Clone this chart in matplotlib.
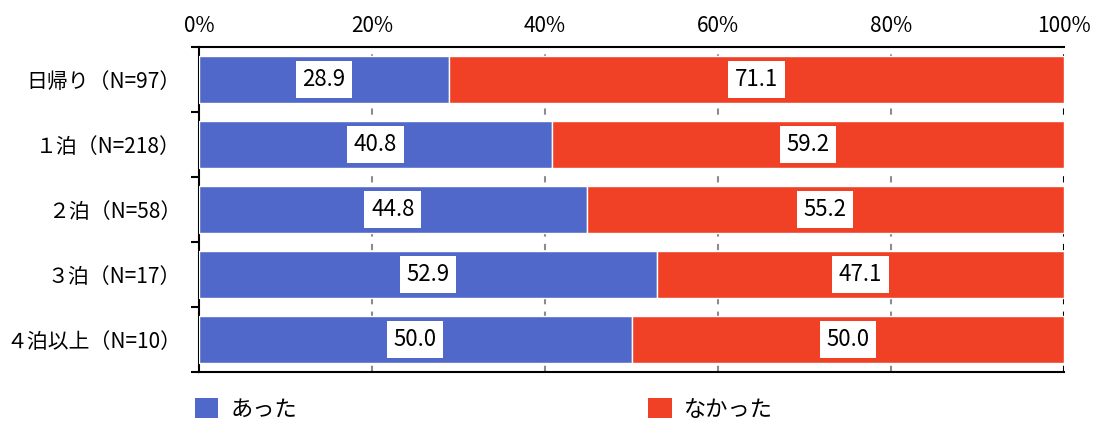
import matplotlib
matplotlib.use("Agg")
import matplotlib.pyplot as plt
import numpy as np
from matplotlib.patches import Patch

plt.rcParams['font.family'] = ['Noto Sans CJK JP', 'DejaVu Sans']

categories = ["日帰り（N=97）", "１泊（N=218）", "２泊（N=58）", "３泊（N=17）", "４泊以上（N=10）"]
atta = [28.9, 40.8, 44.8, 52.9, 50.0]
nakatta = [71.1, 59.2, 55.2, 47.1, 50.0]
series_names = ["あった", "なかった"]
xticks = [0, 20, 40, 60, 80, 100]
xtick_labels = ["0%", "20%", "40%", "60%", "80%", "100%"]

c_blue = "#4F68C9"
c_red = "#F04126"

fig = plt.figure(figsize=(10.95, 4.23), dpi=100)
ax = fig.add_axes([199/1095, 1 - 372/423, (1064-199)/1095, (372-47)/423])

y = np.arange(len(categories))
h = 0.73
ax.barh(y, atta, height=h, color=c_blue, edgecolor="white", linewidth=1.0, zorder=3)
ax.barh(y, nakatta, left=atta, height=h, color=c_red, edgecolor="white", linewidth=1.0, zorder=3)

for i in range(len(categories)):
    for left, val in ((0, atta[i]), (atta[i], nakatta[i])):
        ax.text(left + val / 2, y[i], f"{val:.1f}", ha="center", va="center",
                fontsize=16, color="black", zorder=5,
                bbox=dict(boxstyle="square,pad=0.3", fc="white", ec="none"))

ax.set_xlim(0, 100)
ax.set_ylim(len(categories) - 0.5, -0.5)
ax.xaxis.tick_top()
ax.set_xticks(xticks)
ax.set_xticklabels(xtick_labels, fontsize=15)
ax.tick_params(axis="x", length=0, pad=7)
for xv in xticks[1:-1]:
    ax.axvline(xv, color="#8c8c8c", lw=1.5, ls=(0, (3, 3.5)), zorder=1)
ax.axvline(100, color="black", lw=1.5, ls=(0, (3, 3.5)), zorder=1)

ax.set_yticks(y)
ax.set_yticklabels(categories, fontsize=15)
ax.tick_params(axis="y", which="major", length=0, pad=13)
ax.set_yticks(np.arange(-0.5, len(categories)), minor=True)
ax.tick_params(axis="y", which="minor", length=6, width=1.5, color="black", direction="out")

for s in ["right"]:
    ax.spines[s].set_visible(False)
for s in ["top", "bottom", "left"]:
    ax.spines[s].set_linewidth(1.5)
    ax.spines[s].set_color("black")

handles = [Patch(facecolor=c_blue, edgecolor="none"), Patch(facecolor=c_red, edgecolor="none")]
fig.legend(handles, series_names, loc="lower left", bbox_to_anchor=(193/1095, 0.0),
           ncol=2, frameon=False, fontsize=16, handlelength=1.04, handleheight=1.04,
           handletextpad=0.55, columnspacing=15.8, borderpad=0.1, borderaxespad=0.0)

fig.savefig("out.png", dpi=100)
